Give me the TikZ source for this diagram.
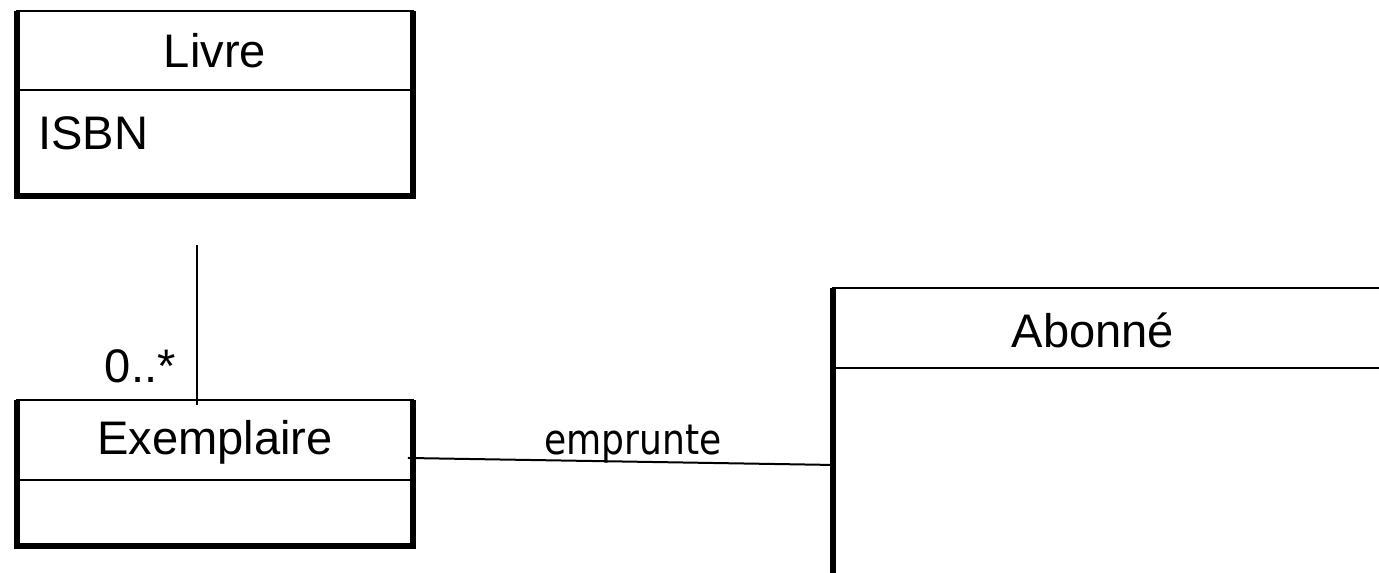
\documentclass[tikz,border=0pt]{standalone}
\usepackage{fontspec}
\setmainfont{Liberation Sans}
\newfontfamily\assocfont{DejaVu Sans}[FakeStretch=0.86]
\usetikzlibrary{positioning}

\tikzset{
    classbox/.style={draw, line width=0.04cm, inner sep=0, outer sep=0, anchor=north west},
    boxside/.style={line width=0.11cm},
    thinline/.style={line width=0.04cm},
    classname/.style={font=\fontsize{26.8}{32}\selectfont, inner sep=0},
    assocname/.style={font=\assocfont\fontsize{23.9}{28}\selectfont, inner sep=0}
}

\begin{document}
\begin{tikzpicture}[x=0.02cm, y=-0.02cm]
            \useasboundingbox (0,0) rectangle (1379,573);
            \clip (0,0) rectangle (1379,573);

            % Livre
            \node[classbox, minimum width=7.92cm, minimum height=3.7cm] (livre) at (17,11) {};
            \draw[boxside] (livre.north west) -- (livre.south west) -- (livre.south east) -- (livre.north east);
            \draw[thinline] ([yshift=-1.58cm]livre.north west) -- ([yshift=-1.58cm]livre.north east);
            \node[classname] (livre title) at ([yshift=-0.79cm]livre.north) {Livre};
            \node[classname, anchor=west] (livre isbn) at ([shift={(0.42cm,-2.44cm)}]livre.north west) {ISBN};

            % Exemplaire
            \node[classbox, minimum width=7.92cm, minimum height=2.92cm] (exemplaire) at (17,400) {};
            \draw[boxside] (exemplaire.north west) -- (exemplaire.south west) -- (exemplaire.south east) -- (exemplaire.north east);
            \draw[thinline] ([yshift=-1.6cm]exemplaire.north west) -- ([yshift=-1.6cm]exemplaire.north east);
            \node[classname] (exemplaire title) at ([yshift=-0.85cm]exemplaire.north) {Exemplaire};

            % Abonne (runs past the page edge)
            \node[classbox, minimum width=12cm, minimum height=8cm] (abonne) at (833,288) {};
            \draw[boxside] (abonne.north west) -- (abonne.south west) -- (abonne.south east) -- (abonne.north east);
            \draw[thinline] ([yshift=-1.6cm]abonne.north west) -- ([yshift=-1.6cm]abonne.north east);
            \node[classname] (abonne title) at ([shift={(5.2cm,-0.84cm)}]abonne.north west) {Abonné};

            % associations
            \coordinate (livre link) at ([shift={(-0.36cm,-0.98cm)}]livre.south);
            \draw[thinline] (livre link) -- ([shift={(-0.36cm,-0.1cm)}]exemplaire.north);
            \node[classname, anchor=south east] (mult) at (176,383) {0..*};

            \draw[thinline] ([shift={(-0.1cm,0.3cm)}]exemplaire.east) -- ([yshift=-3.54cm]abonne.north west)
                node[assocname, pos=0.53, anchor=base, yshift=0.15cm] (emprunte) {emprunte};
        \end{tikzpicture}
\end{document}
